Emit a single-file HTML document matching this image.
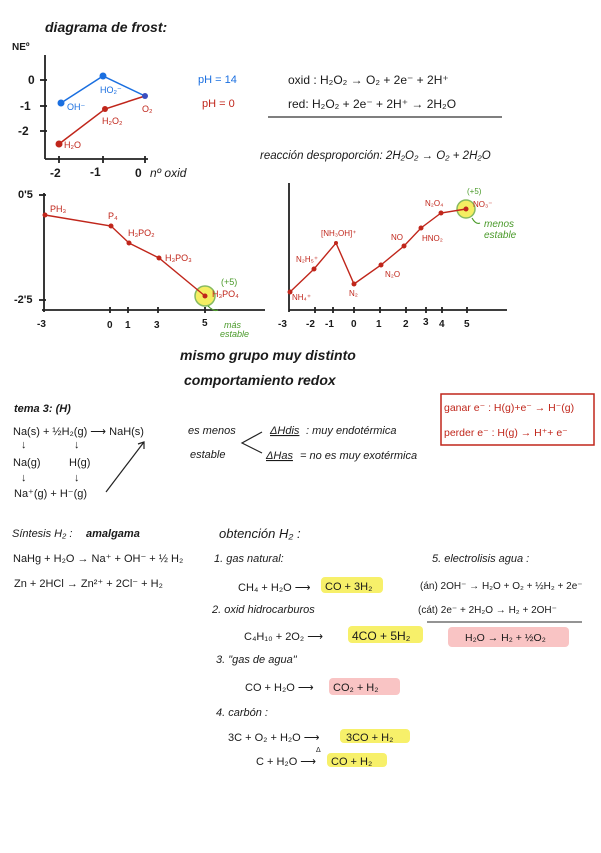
<!DOCTYPE html>
<html><head><meta charset="utf-8"><style>
html,body{margin:0;padding:0;background:#fff;}
svg text{font-family:"Liberation Sans",sans-serif;fill:#1a1a1a;}
.r{fill:#c0261b !important;}
.b{fill:#1a6fe0 !important;}
.g{fill:#4a9a2a !important;}
</style></head><body>
<svg width="601" height="848" viewBox="0 0 601 848" xmlns="http://www.w3.org/2000/svg">
<text x="45" y="32" font-size="14" font-style="italic" font-weight="bold">diagrama de frost:</text>
<text x="12" y="50" font-size="10" font-weight="bold">NEº</text>
<g stroke="#222" stroke-width="1.8" fill="none">
<line x1="45" y1="55" x2="45" y2="159"/><line x1="45" y1="159" x2="148" y2="159"/>
<line x1="40" y1="80" x2="47" y2="80"/><line x1="40" y1="106" x2="47" y2="106"/><line x1="40" y1="131" x2="47" y2="131"/>
<line x1="59" y1="156" x2="59" y2="163"/><line x1="103" y1="156" x2="103" y2="163"/><line x1="145" y1="156" x2="145" y2="163"/>
</g>
<text x="28" y="84" font-size="12" font-weight="bold">0</text>
<text x="20" y="110" font-size="12" font-weight="bold">-1</text>
<text x="18" y="135" font-size="12" font-weight="bold">-2</text>
<text x="50" y="177" font-size="12" font-weight="bold">-2</text>
<text x="90" y="176" font-size="12" font-weight="bold">-1</text>
<text x="135" y="177" font-size="12" font-weight="bold">0</text>
<text x="150" y="177" font-size="12" font-style="italic">nº oxid</text>
<polyline points="61,103 103,76 145,96" stroke="#1a6fe0" stroke-width="1.5" fill="none"/>
<polyline points="59,144 105,109 145,96" stroke="#c0261b" stroke-width="1.5" fill="none"/>
<circle cx="61" cy="103" r="3.5" fill="#1a6fe0"/><circle cx="103" cy="76" r="3.5" fill="#1a6fe0"/><circle cx="145" cy="96" r="3" fill="#3a4fc0"/>
<circle cx="59" cy="144" r="3.5" fill="#c0261b"/><circle cx="105" cy="109" r="3" fill="#c0261b"/>
<text class="b" x="67" y="110" font-size="9">OH⁻</text>
<text class="b" x="100" y="93" font-size="9">HO₂⁻</text>
<text class="r" x="142" y="112" font-size="9">O₂</text>
<text class="r" x="102" y="124" font-size="9">H₂O₂</text>
<text class="r" x="64" y="148" font-size="9">H₂O</text>
<text class="b" x="198" y="83" font-size="11">pH = 14</text>
<text class="r" x="202" y="107" font-size="11">pH = 0</text>
<text x="288" y="84" font-size="12">oxid : H₂O₂ → O₂ + 2e⁻ + 2H⁺</text>
<text x="288" y="108" font-size="12">red:  H₂O₂ + 2e⁻ + 2H⁺ → 2H₂O</text>
<line x1="268" y1="117" x2="502" y2="117" stroke="#333" stroke-width="1.2"/>
<text x="260" y="159" font-size="11.5" font-style="italic">reacción desproporción:  2H₂O₂ → O₂ + 2H₂O</text>

<!-- P chart -->
<g stroke="#222" stroke-width="1.8" fill="none">
<line x1="44" y1="193" x2="44" y2="312"/><line x1="42" y1="310" x2="265" y2="310"/>
<line x1="39" y1="195" x2="46" y2="195"/><line x1="39" y1="300" x2="46" y2="300"/>
<line x1="110" y1="307" x2="110" y2="313"/><line x1="128" y1="307" x2="128" y2="313"/><line x1="158" y1="307" x2="158" y2="313"/><line x1="205" y1="307" x2="205" y2="313"/>
</g>
<text x="18" y="198" font-size="11" font-weight="bold">0'5</text>
<text x="14" y="303" font-size="11" font-weight="bold">-2'5</text>
<text x="37" y="327" font-size="10" font-weight="bold">-3</text>
<text x="107" y="328" font-size="10" font-weight="bold">0</text>
<text x="125" y="328" font-size="10" font-weight="bold">1</text>
<text x="154" y="328" font-size="10" font-weight="bold">3</text>
<text x="202" y="326" font-size="10" font-weight="bold">5</text>
<circle cx="205" cy="296" r="10" fill="#f2ea3c" opacity="0.8" stroke="#6aaa3a" stroke-width="1.5"/>
<polyline points="45,215 111,226 129,243 159,258 205,296" stroke="#c0261b" stroke-width="1.4" fill="none"/>
<g fill="#c0261b"><circle cx="45" cy="215" r="2.5"/><circle cx="111" cy="226" r="2.5"/><circle cx="129" cy="243" r="2.5"/><circle cx="159" cy="258" r="2.5"/><circle cx="205" cy="296" r="2.5"/></g>
<text class="r" x="50" y="212" font-size="9">PH₃</text>
<text class="r" x="108" y="219" font-size="9">P₄</text>
<text class="r" x="128" y="236" font-size="9">H₃PO₂</text>
<text class="r" x="165" y="261" font-size="9">H₃PO₃</text>
<text class="r" x="212" y="297" font-size="9">H₃PO₄</text>
<text class="g" x="221" y="285" font-size="9">(+5)</text>
<path d="M208 306 Q214 312 218 310" stroke="#4a9a2a" fill="none" stroke-width="1.2"/>
<text class="g" x="224" y="328" font-size="9" font-style="italic">más</text>
<text class="g" x="220" y="337" font-size="9" font-style="italic">estable</text>

<!-- N chart -->
<g stroke="#222" stroke-width="1.8" fill="none">
<line x1="289" y1="183" x2="289" y2="312"/><line x1="289" y1="310" x2="507" y2="310"/>
<line x1="315" y1="307" x2="315" y2="313"/><line x1="333" y1="307" x2="333" y2="313"/><line x1="354" y1="307" x2="354" y2="313"/><line x1="380" y1="307" x2="380" y2="313"/><line x1="406" y1="307" x2="406" y2="313"/><line x1="426" y1="307" x2="426" y2="313"/><line x1="442" y1="307" x2="442" y2="313"/><line x1="467" y1="307" x2="467" y2="313"/>
</g>
<g font-size="10" font-weight="bold">
<text x="278" y="327">-3</text><text x="306" y="327">-2</text><text x="325" y="327">-1</text><text x="351" y="327">0</text><text x="376" y="327">1</text><text x="403" y="327">2</text><text x="423" y="325">3</text><text x="439" y="327">4</text><text x="464" y="327">5</text>
</g>
<circle cx="466" cy="209" r="9" fill="#f2ea3c" opacity="0.8" stroke="#6aaa3a" stroke-width="1.5"/>
<polyline points="290,292 314,269 336,243 354,284 381,265 404,246 421,228 441,213 466,209" stroke="#c0261b" stroke-width="1.4" fill="none"/>
<g fill="#c0261b"><circle cx="290" cy="292" r="2.5"/><circle cx="314" cy="269" r="2.5"/><circle cx="336" cy="243" r="2"/><circle cx="354" cy="284" r="2.5"/><circle cx="381" cy="265" r="2.5"/><circle cx="404" cy="246" r="2.5"/><circle cx="421" cy="228" r="2.5"/><circle cx="441" cy="213" r="2.5"/><circle cx="466" cy="209" r="2.5"/></g>
<g font-size="8">
<text class="r" x="292" y="300">NH₄⁺</text>
<text class="r" x="296" y="262">N₂H₅⁺</text>
<text class="r" x="321" y="236">[NH₃OH]⁺</text>
<text class="r" x="349" y="296">N₂</text>
<text class="r" x="385" y="277">N₂O</text>
<text class="r" x="391" y="240">NO</text>
<text class="r" x="422" y="241">HNO₂</text>
<text class="r" x="425" y="206">N₂O₄</text>
<text class="r" x="473" y="207">NO₃⁻</text>
</g>
<text class="g" x="467" y="194" font-size="8">(+5)</text>
<path d="M472 218 Q476 225 480 223" stroke="#4a9a2a" fill="none" stroke-width="1.2"/>
<text class="g" x="484" y="227" font-size="10" font-style="italic">menos</text>
<text class="g" x="484" y="238" font-size="10" font-style="italic">estable</text>

<text x="180" y="360" font-size="14" font-style="italic" font-weight="bold">mismo grupo muy distinto</text>
<text x="184" y="385" font-size="14" font-style="italic" font-weight="bold">comportamiento redox</text>

<g font-size="11">
<text x="14" y="412" font-weight="bold" font-style="italic">tema 3: (H)</text>
<text x="13" y="435">Na(s) + ½H₂(g)  ⟶  NaH(s)</text>
<text x="188" y="434" font-style="italic">es menos</text>
<text x="190" y="458" font-style="italic">estable</text>
<text x="13" y="466">Na(g)</text><text x="69" y="466">H(g)</text>
<text x="14" y="497">Na⁺(g) + H⁻(g)</text>
<text x="21" y="448">↓</text><text x="74" y="448">↓</text>
<text x="21" y="481">↓</text><text x="74" y="481">↓</text>
<text x="270" y="434" font-style="italic" text-decoration="underline">ΔHdis</text>
<text x="306" y="434" font-style="italic">: muy endotérmica</text>
<text x="266" y="459" font-style="italic" text-decoration="underline">ΔHas</text>
<text x="300" y="459" font-style="italic">= no es muy exotérmica</text>
</g>
<path d="M262 432 L242 443 L262 453" stroke="#222" fill="none" stroke-width="1.2"/>
<line x1="106" y1="492" x2="144" y2="442" stroke="#222" stroke-width="1.2"/>
<path d="M138 444 L144 442 L144 449" stroke="#222" fill="none" stroke-width="1.2"/>
<rect x="441" y="394" width="153" height="51" fill="none" stroke="#c0261b" stroke-width="1.5"/>
<text class="r" x="444" y="411" font-size="10.5">ganar e⁻ : H(g)+e⁻ → H⁻(g)</text>
<text class="r" x="444" y="436" font-size="10.5">perder e⁻ : H(g) → H⁺+ e⁻</text>

<g font-size="11">
<text x="12" y="537" font-style="italic">Síntesis H₂ :</text><text x="86" y="537" font-style="italic" font-weight="bold">amalgama</text>
<text x="13" y="562">NaHg + H₂O → Na⁺ + OH⁻ + ½ H₂</text>
<text x="14" y="587">Zn + 2HCl → Zn²⁺ + 2Cl⁻ + H₂</text>
<text x="219" y="538" font-style="italic" font-size="13">obtención H₂ :</text>
<text x="214" y="562" font-style="italic">1. gas natural:</text>
<text x="432" y="562" font-style="italic">5. electrolisis agua :</text>
</g>
<rect x="321" y="577" width="62" height="16" rx="4" fill="#f7f06a"/>
<rect x="348" y="626" width="75" height="17" rx="4" fill="#f7f06a"/>
<rect x="329" y="678" width="71" height="17" rx="4" fill="#f9c4c4"/>
<rect x="340" y="729" width="70" height="14" rx="4" fill="#f7f06a"/>
<rect x="327" y="753" width="60" height="14" rx="4" fill="#f7f06a"/>
<rect x="448" y="627" width="121" height="20" rx="4" fill="#f9c4c4"/>
<g font-size="11">
<text x="238" y="591">CH₄ + H₂O  ⟶</text><text x="325" y="590">CO + 3H₂</text>
<text x="212" y="613" font-style="italic">2. oxid hidrocarburos</text>
<text x="244" y="640">C₄H₁₀ + 2O₂   ⟶</text><text x="352" y="640" font-size="12">4CO + 5H₂</text>
<text x="216" y="663" font-style="italic">3. "gas de agua"</text>
<text x="245" y="691">CO + H₂O  ⟶</text><text x="333" y="691">CO₂ +  H₂</text>
<text x="216" y="716" font-style="italic">4. carbón :</text>
<text x="228" y="741">3C + O₂ + H₂O  ⟶</text><text x="346" y="741">3CO  +  H₂</text>
<text x="256" y="765">C + H₂O ⟶</text><text x="331" y="765">CO + H₂</text>
<text x="316" y="752" font-size="7">Δ</text>
<text x="420" y="589" font-size="10">(án) 2OH⁻ → H₂O + O₂ + ½H₂ + 2e⁻</text>
<text x="418" y="613" font-size="10">(cát) 2e⁻ + 2H₂O → H₂ + 2OH⁻</text>
<text x="465" y="641" font-size="10.5">H₂O → H₂ + ½O₂</text>
</g>
<line x1="427" y1="622" x2="582" y2="622" stroke="#555" stroke-width="1.2"/>
</svg>
</body></html>
